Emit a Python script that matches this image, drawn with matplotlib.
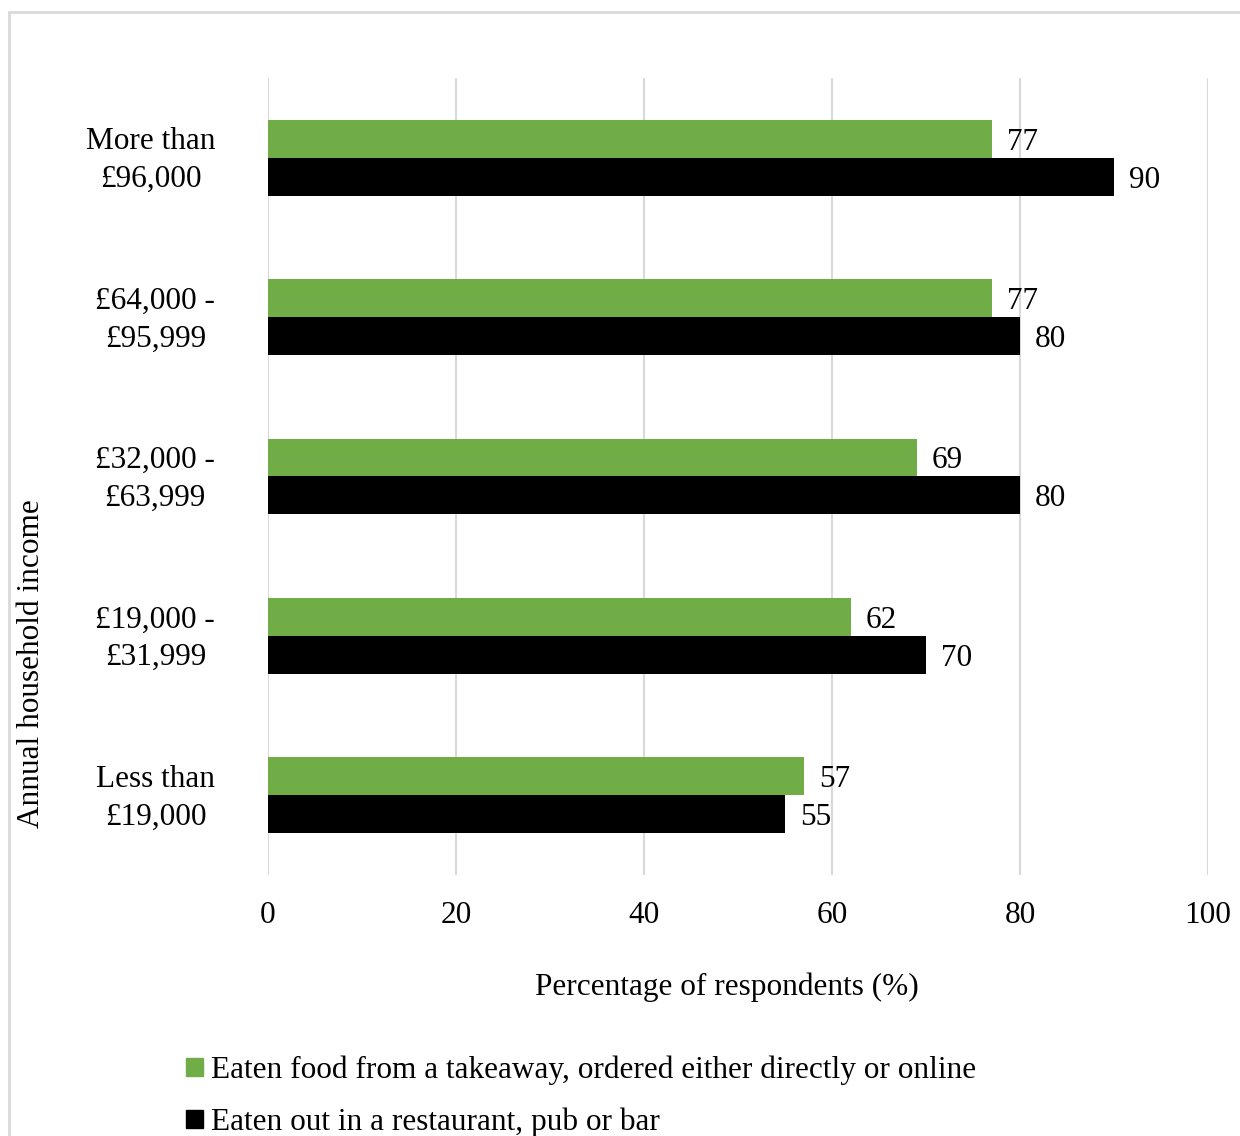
import matplotlib
matplotlib.use("Agg")
import matplotlib.pyplot as plt
import matplotlib.patches as mpatches
import matplotlib.transforms as mtransforms
import numpy as np

plt.rcParams['font.family'] = ['Liberation Serif', 'DejaVu Serif']

# categories bottom to top
categories = ["Less than\n£19,000", "£19,000 -\n£31,999", "£32,000 -\n£63,999",
              "£64,000 -\n£95,999", "More than\n£96,000"]
takeaway = [57, 62, 69, 77, 77]
eaten_out = [55, 70, 80, 80, 90]
series_names = ["Eaten food from a takeaway, ordered either directly or online",
                "Eaten out in a restaurant, pub or bar"]
GREEN = '#70ad47'
BLACK = '#000000'
FS = 22.5

fig = plt.figure(figsize=(12.4, 11.36), dpi=100)
ax = fig.add_axes([0.2161, 0.2298, 0.7581, 0.7016])

y = np.arange(len(categories))
h = 0.238
b1 = ax.barh(y + h / 2, takeaway, height=h, color=GREEN, zorder=3)
b2 = ax.barh(y - h / 2, eaten_out, height=h, color=BLACK, zorder=3)

for bars, vals in ((b1, takeaway), (b2, eaten_out)):
    for bar, v in zip(bars, vals):
        ax.text(v + 1.6, bar.get_y() + bar.get_height() / 2, str(v),
                va='center_baseline', ha='left', fontsize=FS)

ax.set_xlim(0, 100)
ax.set_ylim(-0.5, len(categories) - 0.5)
ax.set_xticks(range(0, 101, 20))
ax.set_yticks(y)
ax.set_yticklabels(categories, fontsize=FS, ha='right', multialignment='center',
                   linespacing=1.4)
ax.tick_params(axis='x', labelsize=FS, length=0, pad=19)
ax.tick_params(axis='y', length=0, pad=38)
ax.grid(axis='x', color='#d9d9d9', linewidth=1.5, zorder=0)
for s in ax.spines.values():
    s.set_visible(False)

# nudge the two-line category labels up a bit
shift = mtransforms.ScaledTranslation(0, 5 / 100, fig.dpi_scale_trans)
for lab in ax.get_yticklabels():
    lab.set_transform(lab.get_transform() + shift)

fig.text(727 / 1240, 1 - 987 / 1136, "Percentage of respondents (%)", fontsize=FS,
         ha='center', va='center')
fig.text(32 / 1240, 1 - 664 / 1136, "Annual household income", fontsize=FS,
         rotation=90, ha='center', va='center')

handles = [mpatches.Patch(color=GREEN), mpatches.Patch(color=BLACK)]
fig.legend(handles, series_names, loc='upper left',
           bbox_to_anchor=(170 / 1240, 1 - 1040 / 1136), frameon=False,
           fontsize=FS, handlelength=0.55, handleheight=0.55,
           handletextpad=0.25, labelspacing=0.72, borderpad=0)

fig.patches.append(mpatches.Rectangle((9 / 1240, -0.1), 1.2, 1.1 - 12 / 1136,
                                      transform=fig.transFigure, fill=False,
                                      edgecolor='#d9d9d9', linewidth=2))

fig.savefig("out.png", dpi=100)
